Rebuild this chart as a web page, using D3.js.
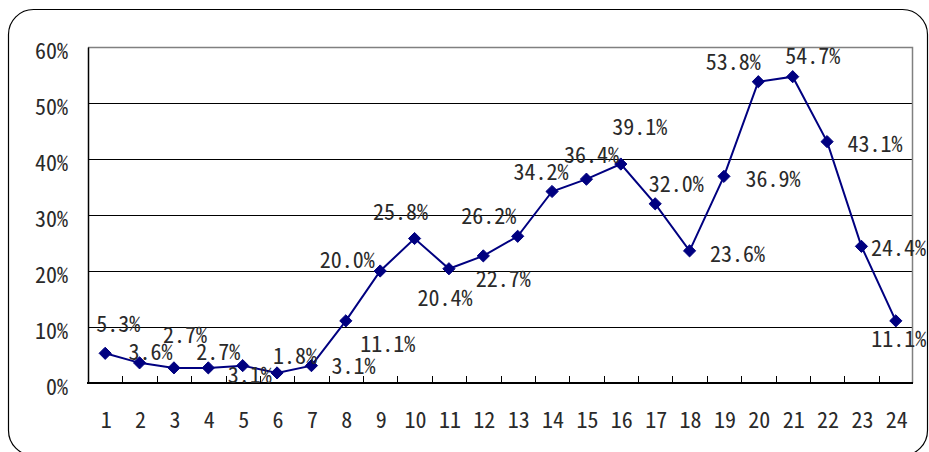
<!DOCTYPE html>
<html>
<head>
<meta charset="utf-8">
<script src="https://cdn.jsdelivr.net/npm/d3@7"></script>
<style>
  body { margin: 0; background: #fff; }
  text { font-family: "Noto Sans Mono CJK JP", "Liberation Mono", monospace; fill: #2a2a2a; font-weight: 300; }
</style>
</head>
<body>
<svg id="chart" width="929" height="452"></svg>
<script>
const categories = ['1', '2', '3', '4', '5', '6', '7', '8', '9', '10', '11', '12',
  '13', '14', '15', '16', '17', '18', '19', '20', '21', '22', '23', '24'];
const values = [5.3, 3.6, 2.7, 2.7, 3.1, 1.8, 3.1, 11.1, 20.0, 25.8, 20.4, 22.7,
  26.2, 34.2, 36.4, 39.1, 32.0, 23.6, 36.9, 53.8, 54.7, 43.1, 24.4, 11.1];
const yTicks = [0, 10, 20, 30, 40, 50, 60];

// where each data label sits relative to its point (px)
const labelOffset = [
  [13, -21], [11, -3], [11, -25], [10, -8], [7, 17], [18, -9], [42, 8], [42, 31],
  [-33, -3], [-14, -19], [-4, 37], [20, 31], [-29, -12], [-11, -11], [5, -16], [19, -29],
  [21, -12], [48, 11], [49, 11], [-25, -12], [20, -13], [48, 10], [37, 10], [3, 26]
];

const svg = d3.select('#chart');
const plot = { left: 88, right: 913, top: 47, bottom: 383 };
const navy = '#000080';

// outer rounded frame
svg.append('rect')
  .attr('x', 8.5).attr('y', 9.5)
  .attr('width', 919).attr('height', 446)
  .attr('rx', 25).attr('ry', 25)
  .attr('fill', '#fff')
  .attr('stroke', '#000')
  .attr('stroke-width', 1.2);

const x = d3.scaleBand().domain(categories).range([plot.left, plot.right]);
const y = d3.scaleLinear().domain([0, 60]).range([plot.bottom, plot.top]);

// gridlines
svg.append('g')
  .selectAll('line')
  .data(yTicks.filter(d => d > 0 && d < 60))
  .join('line')
  .attr('x1', plot.left).attr('x2', plot.right)
  .attr('y1', d => Math.round(y(d)) + 0.5).attr('y2', d => Math.round(y(d)) + 0.5)
  .attr('stroke', '#000').attr('stroke-width', 1);

// plot border (top / right gray)
svg.append('path')
  .attr('d', `M${plot.left},${plot.top + 0.5}H${plot.right - 0.5}V${plot.bottom}`)
  .attr('fill', 'none')
  .attr('stroke', '#808080')
  .attr('stroke-width', 1.5);

// y axis
const yAxis = d3.axisLeft(y).tickValues(yTicks).tickSize(0).tickPadding(20)
  .tickFormat(d => d + '%');
const gy = svg.append('g').attr('transform', `translate(${plot.left},0)`).call(yAxis);
gy.select('.domain').attr('stroke', '#000').attr('stroke-width', 1.5);
gy.selectAll('text')
  .attr('font-size', 22)
  .attr('font-family', '"Noto Sans Mono CJK JP", "Liberation Mono", monospace')
  .attr('fill', '#2a2a2a')
  .attr('dy', '0.5em');

// x axis: ticks between categories, pointing up
const gx = svg.append('g').attr('transform', `translate(0,${plot.bottom})`);
gx.append('line')
  .attr('x1', plot.left - 1).attr('x2', plot.right)
  .attr('stroke', '#000').attr('stroke-width', 2);
gx.selectAll('line.tick')
  .data(categories.slice(1))
  .join('line')
  .attr('class', 'tick')
  .attr('x1', d => Math.round(x(d)) + 0.5).attr('x2', d => Math.round(x(d)) + 0.5)
  .attr('y1', 0).attr('y2', -7)
  .attr('stroke', '#000').attr('stroke-width', 1);
gx.selectAll('text')
  .data(categories)
  .join('text')
  .attr('x', d => x(d) + x.bandwidth() / 2 + 1)
  .attr('y', 45)
  .attr('text-anchor', 'middle')
  .attr('font-size', 22)
  .text(d => d);

// series line
const cx = (d, i) => x(categories[i]) + x.bandwidth() / 2;
const line = d3.line().x(cx).y(d => y(d));
svg.append('path')
  .datum(values)
  .attr('d', line)
  .attr('fill', 'none')
  .attr('stroke', navy)
  .attr('stroke-width', 2);

// diamond markers
svg.append('g')
  .selectAll('path')
  .data(values)
  .join('path')
  .attr('transform', (d, i) => `translate(${cx(d, i)},${y(d)})`)
  .attr('d', d3.symbol().type(d3.symbolDiamond2).size(95))
  .attr('fill', navy)
  .attr('stroke', navy);

// data labels
svg.append('g')
  .selectAll('text')
  .data(values)
  .join('text')
  .attr('x', (d, i) => cx(d, i) + labelOffset[i][0])
  .attr('y', (d, i) => y(d) + labelOffset[i][1])
  .attr('text-anchor', 'middle')
  .attr('font-size', 22)
  .text(d => d.toFixed(1) + '%');
</script>
</body>
</html>
